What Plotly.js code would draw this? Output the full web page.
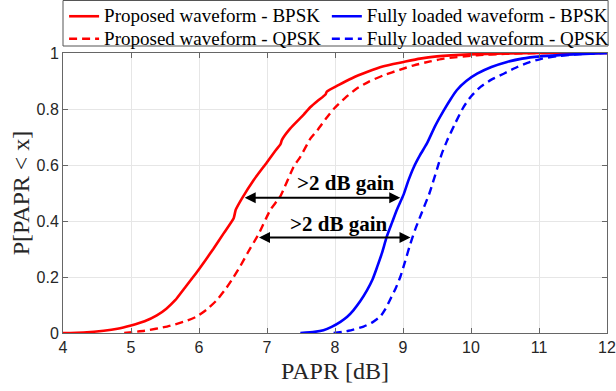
<!DOCTYPE html>
<html>
<head>
<meta charset="utf-8">
<script src="https://cdn.plot.ly/plotly-3.0.1.min.js"></script>
<style>html,body{margin:0;padding:0;background:#fff;}#chart{width:616px;height:391px;}</style>
</head>
<body>
<div id="chart"></div>
<script>
// Proposed waveform - BPSK
const propBpskX = [4.0, 4.3, 4.6, 4.8, 5.0, 5.2, 5.38, 5.52, 5.65, 5.78, 5.97, 6.1, 6.21, 6.36, 6.51, 6.54, 6.63, 6.8, 7.0, 7.12, 7.2, 7.22, 7.34, 7.54, 7.64, 7.75, 7.86, 7.88, 8.05, 8.25, 8.47, 8.7, 9.01, 9.25, 9.5, 9.99, 10.5, 11.0, 12.0];
const propBpskY = [0.0, 0.002, 0.008, 0.015, 0.027, 0.042, 0.063, 0.087, 0.117, 0.158, 0.218, 0.262, 0.30, 0.355, 0.41, 0.44, 0.48, 0.545, 0.61, 0.65, 0.675, 0.69, 0.73, 0.78, 0.807, 0.83, 0.852, 0.862, 0.885, 0.91, 0.932, 0.952, 0.968, 0.98, 0.988, 0.995, 0.998, 1.0, 1.0];
// Proposed waveform - QPSK
const propQpskX = [4.9, 5.2, 5.53, 5.8, 5.97, 6.12, 6.26, 6.4, 6.51, 6.61, 6.71, 6.88, 7.05, 7.2, 7.39, 7.49, 7.64, 7.74, 7.88, 7.98, 8.15, 8.32, 8.5, 8.71, 8.95, 9.16, 9.4, 9.6, 10.09, 10.5, 11.0, 12.0];
const propQpskY = [0.0, 0.008, 0.023, 0.042, 0.059, 0.085, 0.117, 0.16, 0.2, 0.24, 0.284, 0.355, 0.44, 0.49, 0.593, 0.629, 0.695, 0.724, 0.77, 0.80, 0.84, 0.873, 0.898, 0.92, 0.94, 0.956, 0.97, 0.98, 0.992, 0.997, 1.0, 1.0];
// Fully loaded waveform - BPSK
const fullBpskX = [7.49, 7.7, 7.83, 7.95, 8.08, 8.18, 8.27, 8.37, 8.47, 8.55, 8.62, 8.69, 8.76, 8.84, 8.91, 9.01, 9.08, 9.16, 9.25, 9.35, 9.47, 9.6, 9.7, 9.79, 9.93, 10.09, 10.3, 10.53, 10.75, 11.02, 11.51, 12.0];
const fullBpskY = [0.0, 0.004, 0.01, 0.022, 0.04, 0.058, 0.081, 0.113, 0.152, 0.19, 0.236, 0.285, 0.343, 0.395, 0.44, 0.495, 0.545, 0.593, 0.635, 0.676, 0.738, 0.795, 0.835, 0.867, 0.90, 0.926, 0.95, 0.968, 0.98, 0.988, 0.995, 1.0];
// Fully loaded waveform - QPSK
const fullQpskX = [7.98, 8.2, 8.42, 8.55, 8.67, 8.74, 8.81, 8.89, 8.96, 9.03, 9.11, 9.18, 9.25, 9.39, 9.5, 9.57, 9.65, 9.77, 9.89, 10.0, 10.14, 10.3, 10.48, 10.68, 10.87, 11.05, 11.26, 11.6, 12.0];
const fullQpskY = [0.0, 0.008, 0.023, 0.038, 0.06, 0.085, 0.119, 0.158, 0.2, 0.255, 0.32, 0.37, 0.414, 0.50, 0.585, 0.64, 0.688, 0.75, 0.807, 0.845, 0.879, 0.905, 0.926, 0.95, 0.968, 0.98, 0.988, 0.996, 1.0];

const seriesNames = ['Proposed waveform - BPSK', 'Fully loaded waveform - BPSK', 'Proposed waveform - QPSK', 'Fully loaded waveform - QPSK'];
const xTicks = [4, 5, 6, 7, 8, 9, 10, 11, 12];
const yTicks = [0, 0.2, 0.4, 0.6, 0.8, 1];
const yTickText = ['0', '0.2', '0.4', '0.6', '0.8', '1'];
const gainLabel = '>2 dB gain';
// arrows: [xStart, xEnd, y]
const arrowUpper = [6.65, 8.96, 0.483];
const arrowLower = [6.86, 9.11, 0.341];
const labelUpper = [8.15, 0.535];
const labelLower = [8.05, 0.39];

const RED = '#ff0000', BLUE = '#0000ff';
const sm = {shape: 'spline', smoothing: 0.5};
const nm = s => '<span style="font-size:19px">' + s + '</span>';
const traces = [
  {x: propBpskX, y: propBpskY, name: nm(seriesNames[0]), legend: 'legend', mode: 'lines', line: Object.assign({color: RED, width: 2.6}, sm)},
  {x: propQpskX, y: propQpskY, name: nm(seriesNames[2]), legend: 'legend', mode: 'lines', line: Object.assign({color: RED, width: 2.4, dash: '8px,5px'}, sm)},
  {x: fullBpskX, y: fullBpskY, name: nm(seriesNames[1]), legend: 'legend2', mode: 'lines', line: Object.assign({color: BLUE, width: 2.6}, sm)},
  {x: fullQpskX, y: fullQpskY, name: nm(seriesNames[3]), legend: 'legend2', mode: 'lines', line: Object.assign({color: BLUE, width: 2.4, dash: '8px,5px'}, sm)}
];

function arrow(a) {
  return {x: a[1], y: a[2], ax: a[0], ay: a[2], xref: 'x', yref: 'y', axref: 'x', ayref: 'y',
    text: '', showarrow: true, arrowhead: 2, startarrowhead: 2, arrowside: 'end+start',
    arrowsize: 1, startarrowsize: 1, arrowwidth: 2.2, arrowcolor: '#000'};
}
function label(p) {
  return {x: p[0], y: p[1], xref: 'x', yref: 'y', text: '<b>' + gainLabel.replace('>', '&gt;') + '</b>', showarrow: false,
    font: {family: 'Liberation Serif, serif', size: 21, color: '#000'}};
}

const axisCommon = {
  showline: true, linecolor: '#666', linewidth: 1, mirror: 'ticks',
  ticks: 'inside', ticklen: 5, tickcolor: '#666',
  showgrid: true, gridcolor: '#e6e6e6', gridwidth: 1, zeroline: false,
  tickfont: {family: 'Liberation Sans, Arial, sans-serif', size: 16, color: '#262626'}
};

const legendFont = {family: 'Liberation Serif, serif', size: 15, color: '#000'};
const legendCommon = {
  orientation: 'v', yref: 'container', y: 1, yanchor: 'top', xanchor: 'left',
  borderwidth: 0, bgcolor: 'rgba(255,255,255,0)', font: legendFont, tracegroupgap: 0, itemwidth: 30
};

const layout = {
  width: 616, height: 391,
  margin: {l: 63, r: 9, t: 53, b: 58, pad: 0, autoexpand: false},
  paper_bgcolor: '#fff', plot_bgcolor: '#fff',
  showlegend: true,
  legend: Object.assign({}, legendCommon, {x: 0.002}),
  legend2: Object.assign({}, legendCommon, {x: 0.485}),
  shapes: [{type: 'rect', xref: 'paper', yref: 'paper', x0: 0, x1: 1.002, y0: 1.025, y1: 1.1875,
    line: {color: '#555', width: 1}, fillcolor: 'rgba(0,0,0,0)', layer: 'below'}],
  xaxis: Object.assign({}, axisCommon, {
    range: [4, 12], tickvals: xTicks, ticktext: xTicks.map(String),
    title: {text: 'PAPR [dB]', font: {family: 'Liberation Serif, serif', size: 24, color: '#262626'}, standoff: 6}
  }),
  yaxis: Object.assign({}, axisCommon, {
    range: [0, 1], tickvals: yTicks, ticktext: yTickText,
    title: {text: 'P[PAPR &lt; x]', font: {family: 'Liberation Serif, serif', size: 24, color: '#262626'}, standoff: 0}
  }),
  annotations: [arrow(arrowUpper), arrow(arrowLower), label(labelUpper), label(labelLower)]
};

Plotly.newPlot('chart', traces, layout, {displayModeBar: false, staticPlot: true});
</script>
</body>
</html>
